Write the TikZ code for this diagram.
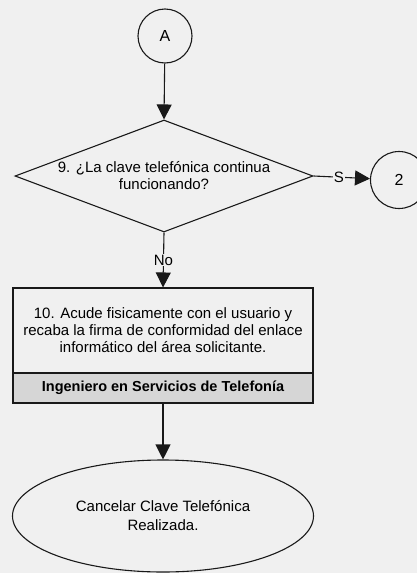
\documentclass[tikz,border=0pt]{standalone}
\usepackage{fontspec}
\setmainfont{Liberation Sans}
\usetikzlibrary{shapes.geometric,arrows.meta}
\begin{document}
\begin{tikzpicture}[x=1pt,y=-1pt,
  line/.style={draw=black!90,line width=1.1pt},
  arr/.style={line,-{Triangle[length=15pt,width=15pt]}},
  conn/.style={line,circle,minimum size=56pt,inner sep=0pt,font=\fontsize{16}{18}\selectfont},
  txt/.style={font=\fontsize{15}{17}\selectfont,align=center}]
\fill[black!6] (0,0) rectangle (417,573);
\useasboundingbox (0,0) rectangle (417,573);
\node[conn,minimum size=54pt] (A) at (165,36) {A};
\node[line,diamond,minimum width=298pt,minimum height=112pt,aspect=2.66,inner sep=0pt,txt] (d9) at (164,176) {9. ¿La clave telefónica continua\\funcionando?};
\node[conn,minimum size=57pt] (c2) at (399,180) {2};
\node[line,rectangle,minimum width=300pt,minimum height=85pt,inner sep=0pt,txt] (b10) at (163,330.5) {10. Acude fisicamente con el usuario y\\recaba la firma de conformidad del enlace\\informático del área solicitante.};
\node[line,rectangle,fill=black!16,minimum width=300pt,minimum height=30pt,inner sep=0pt,txt,font=\bfseries\fontsize{14.5}{16}\selectfont] (r10) at (163,388) {Ingeniero en Servicios de Telefonía};
\node[line,ellipse,minimum width=301pt,minimum height=112pt,inner sep=0pt,txt,font=\fontsize{15}{19}\selectfont] (e) at (163,516) {Cancelar Clave Telefónica\\Realizada.};
\draw[arr] (A) -- (d9.north);
\draw[arr] (d9.east) -- node[pos=0.45,fill=black!6,inner sep=1pt,txt]{S} (c2);
\draw[arr] (d9.south) -- node[pos=0.5,fill=black!6,inner sep=1pt,txt]{No} (b10.north);
\draw[arr] (r10.south) -- (e.north);
\end{tikzpicture}
\end{document}
